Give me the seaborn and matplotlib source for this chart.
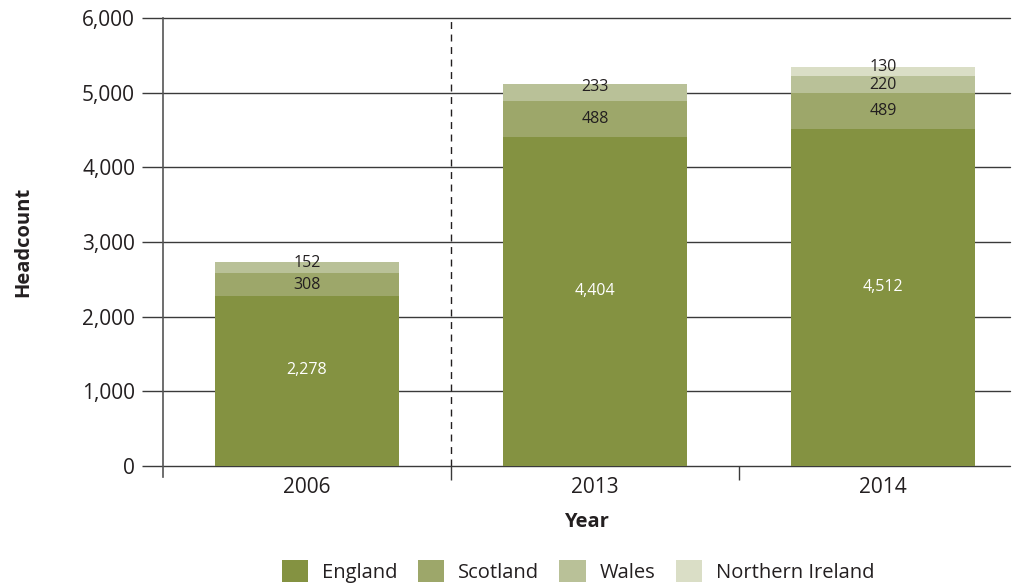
import matplotlib
matplotlib.use("Agg")
import matplotlib.pyplot as plt
import seaborn as sns
import pandas as pd
from matplotlib.patches import Patch

# data
years = ["2006", "2013", "2014"]
england = [2278, 4404, 4512]
scotland = [308, 488, 489]
wales = [152, 233, 220]
northern_ireland = [0, 0, 130]

nations = ["England", "Scotland", "Wales", "Northern Ireland"]
colors = ["#849241", "#9da76a", "#b9c198", "#dadec6"]
label_colors = ["white", "#231f20", "#231f20", "#231f20"]

df = pd.DataFrame({
    "Year": years,
    "England": england,
    "Scotland": scotland,
    "Wales": wales,
    "Northern Ireland": northern_ireland,
})
cum = df[nations].cumsum(axis=1)

sns.set_style("white")
plt.rcParams["font.family"] = ["Open Sans", "DejaVu Sans"]
text_color = "#231f20"

fig = plt.figure(figsize=(10.18, 5.87), dpi=100)
ax = fig.add_axes([0.160, 0.206, 0.832, 0.763])

# stacked bars: draw cumulative totals from the top down
for nation, color in reversed(list(zip(nations, colors))):
    sns.barplot(x=df["Year"], y=cum[nation], color=color, width=0.64,
                saturation=1, ax=ax, zorder=3, linewidth=0, edgecolor="none")

# value labels
for i in range(len(years)):
    base = 0
    present = [n for n in nations if df.loc[i, n] > 0]
    for nation, lc in zip(nations, label_colors):
        v = df.loc[i, nation]
        if v > 0:
            mid = base + v / 2
            if nation == "England":
                off = 8
            elif nation == present[-1]:
                off = 3.5
            else:
                off = 0
            ax.annotate(f"{v:,}", (i, mid), xytext=(0, off), textcoords="offset points",
                        ha="center", va="center", fontsize=11.5, color=lc, zorder=5)
        base += v

ax.set_ylim(0, 6000)
ax.set_xlim(-0.5, 2.44)
ax.set_yticks(range(0, 6001, 1000))
ax.set_yticklabels([f"{t:,}" for t in range(0, 6001, 1000)])
ax.yaxis.grid(True, color="#3a3a3a", linewidth=1.0, zorder=0)
ax.set_axisbelow(True)
for gl in ax.yaxis.get_gridlines():
    gl.set_clip_on(False)

ax.axvline(0.5, color="#231f20", linewidth=1, linestyle=(0, (5, 4)), zorder=1)

for s in ["top", "right", "bottom"]:
    ax.spines[s].set_visible(False)
ax.spines["left"].set_color("#555555")
ax.spines["left"].set_linewidth(1.2)
ax.spines["left"].set_bounds(-140, 6000)
ax.set_ylim(0, 6000)

ax.tick_params(axis="y", which="major", direction="out", length=15, width=1,
               color="#3a3a3a", labelsize=15, labelcolor=text_color, pad=5, left=True)
ax.tick_params(axis="x", which="major", length=0, labelsize=15,
               labelcolor=text_color, pad=8)
ax.set_xticks([0.5, 1.5], minor=True)
ax.tick_params(axis="x", which="minor", direction="out", length=10, width=1,
               color="#3a3a3a", bottom=True)

ax.set_ylabel("Headcount", fontsize=14.5, fontweight="bold", color=text_color, labelpad=35)
ax.set_xlabel("Year", fontsize=14.5, fontweight="bold", color=text_color, labelpad=10)

handles = [Patch(facecolor=c, edgecolor="none", label=n) for n, c in zip(nations, colors)]
fig.legend(handles=handles, loc="lower center", bbox_to_anchor=(0.568, -0.024), ncol=4,
           frameon=False, fontsize=14.5, handlelength=1.3, handleheight=1.3,
           handletextpad=0.7, columnspacing=1.0, labelcolor=text_color)

fig.savefig("out.png", dpi=100)
